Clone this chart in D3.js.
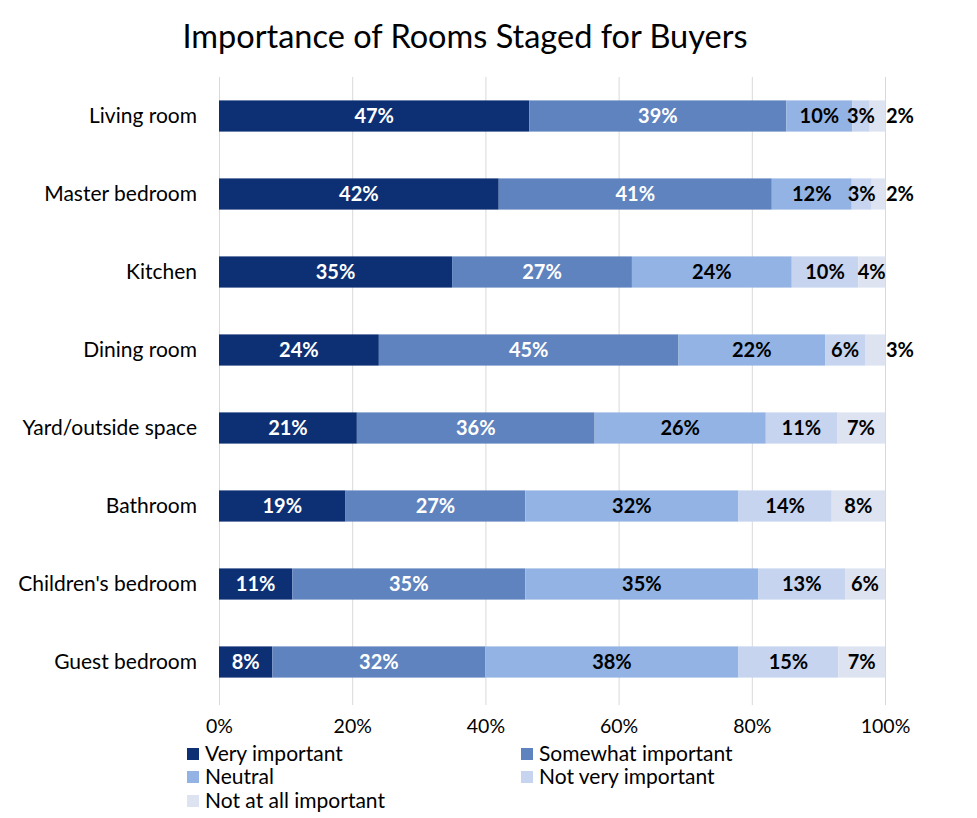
<!DOCTYPE html>
<html>
<head>
<meta charset="utf-8">
<script src="https://cdn.jsdelivr.net/npm/d3@7"></script>
<style>
  body { margin: 0; background: #fff; }
  text { font-family: Lato, "Open Sans", sans-serif; }
</style>
</head>
<body>
<svg id="chart"></svg>
<script>
// ================================ DATA ================================
const rooms = ["Living room", "Master bedroom", "Kitchen", "Dining room",
               "Yard/outside space", "Bathroom", "Children's bedroom", "Guest bedroom"];
const series = ["Very important", "Somewhat important", "Neutral",
                "Not very important", "Not at all important"];
const veryImportant     = [46.6, 42, 35, 24, 20.7, 19, 11, 8];
const somewhatImportant = [38.6, 41, 27, 45, 35.7, 27, 35, 32];
const neutral           = [9.9, 12, 24, 22, 25.7, 32, 35, 38];
const notVeryImportant  = [2.6, 3, 10, 6, 10.7, 14, 13, 15];
const notAtAllImportant = [2.3, 2, 4, 3, 7.2, 8, 6, 7];
const tickValues = [0, 20, 40, 60, 80, 100];
const colors = ["#0d3075", "#5f83be", "#93b3e4", "#c6d4f0", "#dde3f0"];
const labelColors = ["#fff", "#fff", "#000", "#000", "#000"];
// ======================================================================

function draw() {
var width = 977;
var height = 818;
var plotLeft = 219, plotRight = 885, plotTop = 77, plotBottom = 701;

const table = rooms.map((r, i) => ({
  room: r,
  "Very important": veryImportant[i],
  "Somewhat important": somewhatImportant[i],
  "Neutral": neutral[i],
  "Not very important": notVeryImportant[i],
  "Not at all important": notAtAllImportant[i]
}));

const stacked = d3.stack().keys(series)(table);

const xs = d3.scaleLinear().domain([0, 100]).range([plotLeft, plotRight]);
const ys = d3.scaleBand().domain(rooms).range([plotTop, plotBottom])
  .paddingInner(0.6).paddingOuter(0.3);
const color = d3.scaleOrdinal().domain(series).range(colors);

const svg = d3.select("#chart").attr("width", width).attr("height", height);

// title
svg.append("text")
  .attr("x", 465).attr("y", 48)
  .attr("text-anchor", "middle")
  .style("font-size", "32.5px")
  .text("Importance of Rooms Staged for Buyers");

// gridlines
svg.append("g")
  .selectAll("line")
  .data(tickValues)
  .join("line")
  .attr("x1", d => xs(d) + 0.5).attr("x2", d => xs(d) + 0.5)
  .attr("y1", plotTop).attr("y2", plotBottom + 4)
  .attr("stroke", "#d9d9d9").attr("stroke-width", 1);

// x axis tick labels
const xAxis = svg.append("g")
  .attr("transform", "translate(0," + (plotBottom + 4) + ")")
  .call(d3.axisBottom(xs).tickValues(tickValues).tickFormat(d => d + "%").tickSize(0).tickPadding(14));
xAxis.select(".domain").remove();
xAxis.selectAll("text").style("font-size", "19.5px").style("font-family", "Lato, sans-serif").attr("fill", "#000");

// category labels
svg.append("g")
  .selectAll("text")
  .data(rooms)
  .join("text")
  .attr("x", 197)
  .attr("y", d => ys(d) + ys.bandwidth() / 2)
  .attr("dy", "0.35em")
  .attr("text-anchor", "end")
  .style("font-size", "21px")
  .text(d => d);

// bars
const layers = svg.append("g")
  .selectAll("g")
  .data(stacked)
  .join("g")
  .attr("fill", d => color(d.key));

layers.selectAll("rect")
  .data(d => d)
  .join("rect")
  .attr("x", d => xs(d[0]))
  .attr("y", d => ys(d.data.room))
  .attr("width", d => xs(d[1]) - xs(d[0]))
  .attr("height", ys.bandwidth());

// value labels
stacked.forEach((layer, li) => {
  const g = svg.append("g");
  layer.forEach(d => {
    const x0 = xs(d[0]), x1 = xs(d[1]);
    const t = g.append("text")
      .attr("y", ys(d.data.room) + ys.bandwidth() / 2)
      .attr("dy", "0.36em")
      .attr("fill", labelColors[li])
      .style("font-size", "20px")
      .style("font-weight", "bold")
      .text(Math.round(d[1] - d[0]) + "%");
    const w = t.node().getComputedTextLength();
    var cx = (x0 + x1) / 2;
    // small last segments: push the label past the bar end
    if (li === series.length - 1 && w > (x1 - x0) + 8) cx = x1 + 1 + w / 2;
    t.attr("x", cx).attr("text-anchor", "middle");
  });
});

// legend
const legendPos = [[187, 754], [521, 754], [187, 777], [521, 777], [187, 801]];
const legend = svg.append("g")
  .selectAll("g")
  .data(series)
  .join("g")
  .attr("transform", (d, i) => "translate(" + legendPos[i][0] + "," + legendPos[i][1] + ")");
legend.append("rect")
  .attr("x", 0).attr("y", -6).attr("width", 12).attr("height", 12)
  .attr("fill", d => color(d));
legend.append("text")
  .attr("x", 18).attr("dy", "0.35em")
  .style("font-size", "21px")
  .text(d => d);
}

draw();
</script>
</body>
</html>
